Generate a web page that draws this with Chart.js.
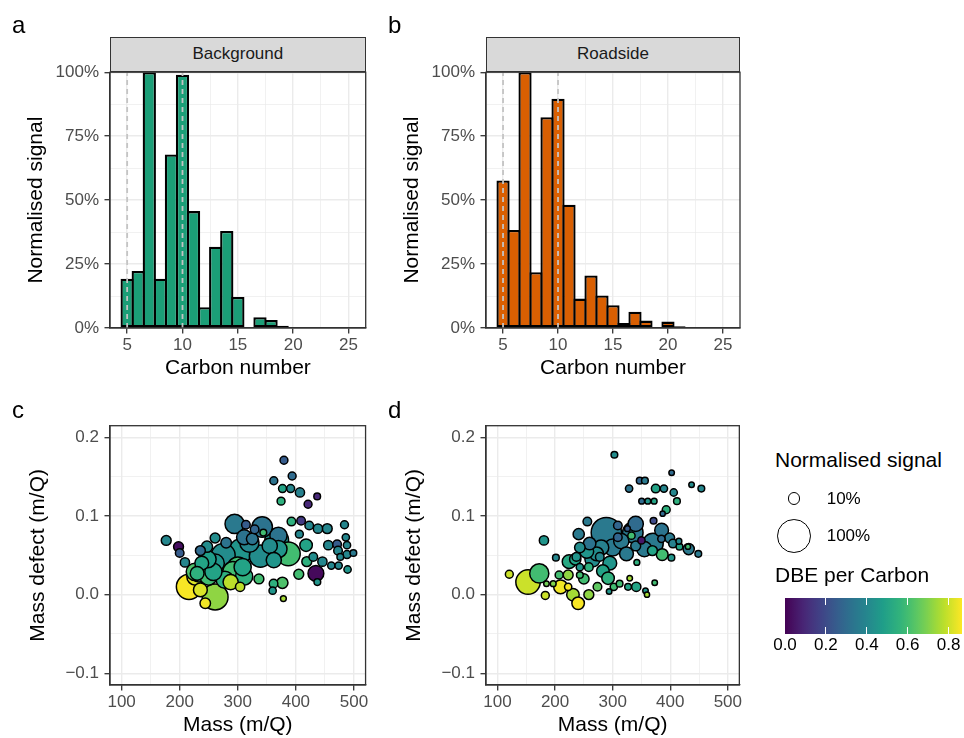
<!DOCTYPE html>
<html>
<head>
<meta charset="utf-8">
<script src="https://cdn.jsdelivr.net/npm/chart.js@4.4.1/dist/chart.umd.min.js"></script>
<style>
  body { margin: 0; background: #fff; }
  #page { position: relative; width: 964px; height: 738px; overflow: hidden;
          font-family: "Liberation Sans", Arial, sans-serif; color: #000; }
  canvas { position: absolute; }
  .txt { position: absolute; white-space: nowrap; }
  .letter { font-size: 24px; line-height: 24px; }
  .strip { position: absolute; box-sizing: border-box; background: #d9d9d9; border: 1.3px solid #333;
           display: flex; align-items: center; justify-content: center; font-size: 17px; color: #1a1a1a; }
  .legtitle { font-size: 21px; line-height: 21px; }
  .leglab { font-size: 17px; line-height: 17px; color: #000; }
  .dot { position: absolute; box-sizing: border-box; border: 1.3px solid #000; border-radius: 50%; }
</style>
</head>
<body>
<div id="page">
  <canvas id="panelA" width="375" height="385" style="left:0;top:0"></canvas>
  <canvas id="panelB" width="375" height="385" style="left:376px;top:0"></canvas>
  <canvas id="panelC" width="380" height="353" style="left:0;top:385px"></canvas>
  <canvas id="panelD" width="380" height="353" style="left:376px;top:385px"></canvas>

  <div class="txt letter" style="left:12px;top:13px">a</div>
  <div class="txt letter" style="left:388px;top:13px">b</div>
  <div class="txt letter" style="left:12px;top:398px">c</div>
  <div class="txt letter" style="left:388px;top:398px">d</div>

  <div class="strip" style="left:110px;top:36.7px;width:255.7px;height:35.5px">Background</div>
  <div class="strip" style="left:486px;top:36.7px;width:254px;height:35.5px">Roadside</div>

  <div id="legend"></div>
</div>

<script>
// ---- data ----
const carbon = [5, 6, 7, 8, 9, 10, 11, 12, 13, 14, 15, 16, 17, 18, 19, 20, 21, 22, 23, 24, 25];
const signalBackground = [0.193, 0.223, 1.0, 0.193, 0.678, 0.99, 0.457, 0.081, 0.318, 0.379, 0.121,
                          0.003, 0.042, 0.031, 0.009, 0.004, 0, 0, 0, 0, 0];
const signalRoadside = [0.577, 0.383, 1.0, 0.218, 0.824, 0.896, 0.482, 0.115, 0.205, 0.127, 0.089,
                        0.020, 0.064, 0.029, 0.004, 0.025, 0.007, 0, 0, 0, 0];
const refCarbon = [5, 10];

// panel c (background) molecules
const massBg = [379.5, 393.6, 362, 377, 391, 407, 374.5, 421, 436.7, 176.8,
                198, 200, 209, 216, 261, 227, 233, 244, 235.6, 287.7,
                304, 336.4, 376.8, 361.6, 360, 378.5, 405, 434.5, 437, 294.5,
                342, 314, 329, 311, 325, 280, 261, 247, 235.6, 367,
                387, 339, 362, 305.6, 275, 261, 238, 230, 300, 311,
                277.6, 249.6, 392.4, 409, 423, 438, 454, 483.7, 406, 417.6,
                455.8, 471, 472.6, 486, 488, 499, 488, 476.5, 461, 473.6,
                489, 445.7, 430, 418.8,
                370, 344, 370, 226, 258, 291.6, 308.4, 248, 320, 355];
const defectBg = [0.171, 0.151, 0.145, 0.135, 0.135, 0.130, 0.119, 0.115, 0.125, 0.069,
                  0.061, 0.053, 0.041, 0.010, -0.003, 0.023, 0.027, -0.011, 0.006, 0.016,
                  0.010, 0.020, 0.015, 0.014, 0.005, -0.005, 0.026, 0.027, 0.016, 0.090,
                  0.086, 0.089, 0.083, 0.073, 0.071, 0.066, 0.072, 0.061, 0.056, 0.069,
                  0.052, 0.049, 0.044, 0.056, 0.050, 0.040, 0.040, 0.027, 0.035, 0.023,
                  0.019, 0.023, 0.093, 0.094, 0.088, 0.084, 0.084, 0.089, 0.077, 0.063,
                  0.063, 0.064, 0.056, 0.073, 0.063, 0.053, 0.051, 0.048, 0.037, 0.037,
                  0.032, 0.042, 0.048, 0.042,
                  0.075, 0.079, 0.058, 0.029, 0.029, 0.029, 0.035, 0.045, 0.066, 0.062];
const normBg = [0.037, 0.037, 0.037, 0.037, 0.037, 0.059, 0.037, 0.037, 0.02, 0.071,
                0.071, 0.048, 0.059, 0.59, 0.62, 0.26, 0.26, 0.083, 0.16, 0.198,
                0.059, 0.071, 0.097, 0.048, 0.028, 0.01, 0.071, 0.217, 0.02, 0.33,
                0.38, 0.048, 0.048, 0.198, 0.11, 0.083, 0.071, 0.097, 0.071, 0.52,
                0.52, 0.45, 0.198, 0.52, 0.52, 0.30, 0.16, 0.16, 0.38, 0.26,
                0.26, 0.26, 0.048, 0.048, 0.048, 0.059, 0.071, 0.037, 0.037, 0.127,
                0.059, 0.048, 0.048, 0.028, 0.028, 0.02, 0.037, 0.02, 0.028, 0.028,
                0.028, 0.059, 0.048, 0.071,
                0.26, 0.02, 0.26, 0.26, 0.26, 0.38, 0.26, 0.26, 0.33, 0.2];
const dbeBg = [0.25, 0.30, 0.33, 0.50, 0.40, 0.38, 0.55, 0.10, 0.10, 0.40,
               0.03, 0.25, 0.40, 0.86, 0.72, 0.82, 0.60, 0.85, 0.82, 0.78,
               0.78, 0.60, 0.62, 0.55, 0.45, 0.75, 0.60, 0.02, 0.45, 0.35,
               0.33, 0.25, 0.28, 0.33, 0.33, 0.33, 0.42, 0.42, 0.30, 0.45,
               0.60, 0.42, 0.45, 0.45, 0.42, 0.45, 0.50, 0.55, 0.60, 0.55,
               0.55, 0.60, 0.55, 0.15, 0.40, 0.40, 0.40, 0.40, 0.40, 0.50,
               0.40, 0.25, 0.40, 0.40, 0.40, 0.35, 0.40, 0.40, 0.40, 0.40,
               0.45, 0.40, 0.42, 0.55,
               0.33, 0.60, 0.45, 0.62, 0.50, 0.60, 0.50, 0.48, 0.40, 0.42];

// panel d (roadside) molecules
const massRs = [303, 402.4, 437, 454, 347, 356, 328.5, 374.7, 389, 406,
                350.4, 361, 372, 411.6, 393, 386.8, 371, 256, 241, 180.6,
                120.5, 153, 172.5, 183, 185, 196.7, 209.5, 222.7, 231, 240,
                201.4, 224.4, 207, 222.7, 243, 243, 258.6, 258.6, 273.6, 292,
                302, 312, 326.7, 341, 293.8, 357, 359.6, 373, 329.6, 289,
                335, 370, 324, 309, 309, 325.6, 350, 332.6, 340, 260,
                272, 295, 243, 237, 277.6, 386, 369, 399, 402, 416,
                415, 432, 430.7, 448.7, 342, 404.7, 384.6,
                255, 265, 280, 300, 315, 283, 250, 235, 355, 385, 340];
const defectRs = [0.178, 0.155, 0.140, 0.135, 0.145, 0.145, 0.135, 0.135, 0.135, 0.130,
                  0.119, 0.119, 0.119, 0.119, 0.108, 0.103, 0.094, 0.093, 0.077, 0.069,
                  0.026, 0.016, 0.027, -0.001, 0.014, 0.014, 0.010, 0.010, 0.000, -0.011,
                  0.047, 0.042, 0.025, 0.025, 0.035, 0.025, 0.035, 0.000, 0.010, 0.021,
                  0.010, 0.014, 0.010, 0.010, 0.004, 0.005, 0.000, 0.015, 0.021, 0.079,
                  0.079, 0.065, 0.052, 0.088, 0.073, 0.084, 0.069, 0.075, 0.062, 0.065,
                  0.052, 0.040, 0.060, 0.048, 0.048, 0.051, 0.056, 0.072, 0.047, 0.061,
                  0.068, 0.058, 0.061, 0.052, 0.041, 0.065, 0.071,
                  0.055, 0.045, 0.060, 0.060, 0.068, 0.030, 0.020, 0.045, 0.058, 0.082, 0.090];
const normRs = [0.02, 0.006, 0.006, 0.02, 0.02, 0.02, 0.028, 0.048, 0.028, 0.028,
                0.01, 0.01, 0.01, 0.02, 0.037, 0.003, 0.02, 0.048, 0.097, 0.059,
                0.037, 0.55, 0.33, 0.037, 0.006, 0.01, 0.16, 0.028, 0.127, 0.127,
                0.02, 0.16, 0.037, 0.071, 0.028, 0.02, 0.048, 0.071, 0.048, 0.127,
                0.028, 0.02, 0.02, 0.059, 0.006, 0.006, 0.003, 0.006, 0.006, 0.86,
                0.38, 0.38, 0.16, 0.048, 0.048, 0.01, 0.028, 0.028, 0.071, 0.127,
                0.16, 0.16, 0.083, 0.048, 0.048, 0.11, 0.071, 0.071, 0.02, 0.02,
                0.01, 0.097, 0.003, 0.02, 0.01, 0.048, 0.028,
                0.16, 0.2, 0.2, 0.26, 0.2, 0.13, 0.08, 0.1, 0.2, 0.16, 0.2];
const dbeRs = [0.42, 0.30, 0.42, 0.40, 0.28, 0.35, 0.33, 0.50, 0.40, 0.40,
               0.30, 0.45, 0.50, 0.55, 0.55, 0.30, 0.20, 0.35, 0.35, 0.45,
               0.80, 0.80, 0.60, 0.80, 0.68, 0.70, 0.85, 0.86, 0.75, 0.86,
               0.40, 0.52, 0.60, 0.72, 0.45, 0.60, 0.55, 0.72, 0.65, 0.55,
               0.60, 0.60, 0.50, 0.50, 0.45, 0.45, 0.75, 0.60, 0.75, 0.35,
               0.35, 0.35, 0.35, 0.28, 0.28, 0.25, 0.05, 0.60, 0.35, 0.33,
               0.42, 0.45, 0.42, 0.45, 0.40, 0.60, 0.50, 0.35, 0.45, 0.50,
               0.40, 0.35, 0.60, 0.35, 0.55, 0.38, 0.30,
               0.45, 0.42, 0.38, 0.35, 0.35, 0.50, 0.60, 0.50, 0.35, 0.33, 0.30];

const sizeBreaks = [0.1, 1.0];
const dbeBreaks = [0.0, 0.2, 0.4, 0.6, 0.8];
const DBE_MAX = 0.866;

// ---- helpers ----
const FONT = '"Liberation Sans", Arial, sans-serif';
Chart.defaults.font.family = FONT;

const viridisStops = ['#440154', '#482878', '#3e4989', '#31688e', '#26828e',
                      '#1f9e89', '#35b779', '#6dcd59', '#b4de2c', '#fde725'];
function hexRgb(h) {
  return [1, 3, 5].map(i => parseInt(h.slice(i, i + 2), 16));
}
function viridis(t) {
  t = Math.min(1, Math.max(0, t));
  const p = t * (viridisStops.length - 1);
  const i = Math.min(Math.floor(p), viridisStops.length - 2);
  const f = p - i;
  const a = hexRgb(viridisStops[i]), b = hexRgb(viridisStops[i + 1]);
  return 'rgb(' + a.map((v, k) => Math.round(v + (b[k] - v) * f)).join(',') + ')';
}
// point radius from normalised signal (area scaling)
function sizeR(s) {
  return Math.sqrt(6 + 260 * s);
}

const near = (v, step) => Math.abs(v / step - Math.round(v / step)) < 1e-6;

function gridFor(step) {
  return {
    color: '#ebebeb',
    lineWidth: ctx => (ctx.tick && near(ctx.tick.value, step)) ? 1.4 : 0.7,
    tickColor: ctx => (ctx.tick && near(ctx.tick.value, step)) ? '#333333' : 'rgba(0,0,0,0)',
    tickLength: 5.5,
    tickWidth: 1.3
  };
}

function fixedTicks(values) {
  return scale => { scale.ticks = values.map(v => ({ value: v })); };
}

const panelBorder = {
  id: 'panelBorder',
  afterDraw(chart) {
    const { ctx, chartArea: a } = chart;
    ctx.save();
    ctx.strokeStyle = '#333333';
    ctx.lineWidth = 1.3;
    ctx.strokeRect(a.left, a.top, a.right - a.left, a.bottom - a.top);
    ctx.restore();
  }
};

const tickFont = { size: 17, family: FONT };
const titleFont = { size: 21, family: FONT, lineHeight: 1 };

// ---- bar panels (a, b) ----
function barPanel(id, values, fill, padRight) {
  const datasets = refCarbon.map(c => ({
    type: 'line',
    data: [{ x: c, y: 0 }, { x: c, y: 1 }],
    borderColor: '#c4c4c4',
    borderWidth: 1.8,
    borderDash: [5, 4],
    pointRadius: 0,
    order: 0
  }));
  datasets.push({
    type: 'bar',
    data: carbon.map((c, i) => ({ x: c, y: values[i] })),
    backgroundColor: fill,
    borderColor: '#000000',
    borderWidth: 2.3,
    borderSkipped: false,
    barPercentage: 1.2,
    categoryPercentage: 1,
    order: 1
  });

  return new Chart(document.getElementById(id), {
    type: 'bar',
    data: { datasets },
    options: {
      responsive: false,
      animation: false,
      events: [],
      layout: { padding: { top: 72.2, right: padRight, left: 0, bottom: 0 } },
      plugins: { legend: { display: false }, tooltip: { enabled: false } },
      scales: {
        x: {
          type: 'linear', min: 3.45, max: 26.55, offset: false,
          afterBuildTicks: fixedTicks([5, 7.5, 10, 12.5, 15, 17.5, 20, 22.5, 25]),
          afterFit: s => { s.height = 57; },
          grid: Object.assign(gridFor(5), { offset: false }),
          border: { color: '#333333', width: 1.3 },
          ticks: { autoSkip: false, maxRotation: 0, padding: 2, color: '#4d4d4d', font: tickFont,
                   callback: v => near(v, 5) ? String(v) : '' },
          title: { display: true, text: 'Carbon number', color: '#000', font: titleFont,
                   padding: { top: 0, bottom: 6 } }
        },
        y: {
          type: 'linear', min: 0, max: 1,
          afterBuildTicks: fixedTicks([0, 0.125, 0.25, 0.375, 0.5, 0.625, 0.75, 0.875, 1]),
          afterFit: s => { s.width = 110; },
          grid: gridFor(0.25),
          border: { color: '#333333', width: 1.3 },
          ticks: { autoSkip: false, padding: 5.5, color: '#4d4d4d', font: tickFont,
                   callback: v => near(v, 0.25) ? Math.round(v * 100) + '%' : '' },
          title: { display: true, text: 'Normalised signal', color: '#000', font: titleFont,
                   padding: { top: 25.5, bottom: 0 } }
        }
      }
    },
    plugins: [panelBorder]
  });
}

// ---- bubble panels (c, d) ----
function bubblePanel(id, mass, defect, norm, dbe, padRight) {
  const pts = mass.map((m, i) => ({ x: m, y: defect[i], r: sizeR(norm[i]), s: norm[i], d: dbe[i] }))
    .sort((p, q) => q.s - p.s);

  return new Chart(document.getElementById(id), {
    type: 'bubble',
    data: {
      datasets: [{
        data: pts,
        backgroundColor: pts.map(p => viridis(p.d / DBE_MAX)),
        borderColor: '#000000',
        borderWidth: 1.5
      }]
    },
    options: {
      responsive: false,
      animation: false,
      events: [],
      layout: { padding: { top: 40.7, right: padRight, left: 0, bottom: 0 } },
      plugins: { legend: { display: false }, tooltip: { enabled: false } },
      scales: {
        x: {
          type: 'linear', min: 80, max: 520,
          afterBuildTicks: fixedTicks([100, 150, 200, 250, 300, 350, 400, 450, 500]),
          afterFit: s => { s.height = 53; },
          grid: gridFor(100),
          border: { color: '#333333', width: 1.3 },
          ticks: { autoSkip: false, maxRotation: 0, padding: 2, color: '#4d4d4d', font: tickFont,
                   callback: v => near(v, 100) ? String(v) : '' },
          title: { display: true, text: 'Mass (m/Q)', color: '#000', font: titleFont,
                   padding: { top: 0, bottom: 2.5 } }
        },
        y: {
          type: 'linear', min: -0.115, max: 0.215,
          afterBuildTicks: fixedTicks([-0.1, -0.05, 0, 0.05, 0.1, 0.15, 0.2]),
          afterFit: s => { s.width = 110; },
          grid: gridFor(0.1),
          border: { color: '#333333', width: 1.3 },
          ticks: { autoSkip: false, padding: 5.5, color: '#4d4d4d', font: tickFont,
                   callback: v => near(v, 0.1) ? v.toFixed(1).replace('-', '\u2212') : '' },
          title: { display: true, text: 'Mass defect (m/Q)', color: '#000', font: titleFont,
                   padding: { top: 28, bottom: 0 } }
        }
      }
    },
    plugins: [panelBorder]
  });
}

barPanel('panelA', signalBackground, '#1b9e77', 9.3);
barPanel('panelB', signalRoadside, '#d95f02', 11);
bubblePanel('panelC', massBg, defectBg, normBg, dbeBg, 10);
bubblePanel('panelD', massRs, defectRs, normRs, dbeRs, 16);

// ---- legend ----
const legend = document.getElementById('legend');
function addText(cls, text, left, top, extra) {
  const el = document.createElement('div');
  el.className = 'txt ' + cls;
  el.textContent = text;
  el.style.left = left + 'px';
  el.style.top = top + 'px';
  if (extra) Object.assign(el.style, extra);
  legend.appendChild(el);
  return el;
}
addText('legtitle', 'Normalised signal', 775, 449);
const dotY = [498.3, 536];
const labTop = [489.6, 527.3];
sizeBreaks.forEach((s, i) => {
  const r = sizeR(s) + 0.6;
  const dot = document.createElement('div');
  dot.className = 'dot';
  Object.assign(dot.style, { left: (794 - r) + 'px', top: (dotY[i] - r) + 'px',
                             width: (2 * r) + 'px', height: (2 * r) + 'px' });
  legend.appendChild(dot);
  addText('leglab', Math.round(s * 100) + '%', 826.7, labTop[i]);
});
addText('legtitle', 'DBE per Carbon', 775, 564);

const barLeft = 785, barTop = 598.3, barH = 35.7, pxPerUnit = 204.5;
const bar = document.createElement('div');
const stops = [];
for (let k = 0; k <= 20; k++) stops.push(viridis(k / 20) + ' ' + (k * 5) + '%');
Object.assign(bar.style, { position: 'absolute', left: barLeft + 'px', top: barTop + 'px',
  width: (DBE_MAX * pxPerUnit) + 'px', height: barH + 'px',
  background: 'linear-gradient(to right, ' + stops.join(', ') + ')' });
legend.appendChild(bar);
dbeBreaks.forEach(v => {
  const x = barLeft + v * pxPerUnit;
  if (v > 0) {
    [barTop, barTop + barH - 6.7].forEach(t => {
      const tk = document.createElement('div');
      Object.assign(tk.style, { position: 'absolute', left: (x - 0.5) + 'px', top: t + 'px',
        width: '1px', height: '6.7px', background: '#ffffff' });
      legend.appendChild(tk);
    });
  }
  addText('leglab', v.toFixed(1), x - 30, 636.3, { width: '60px', textAlign: 'center' });
});
</script>
</body>
</html>
